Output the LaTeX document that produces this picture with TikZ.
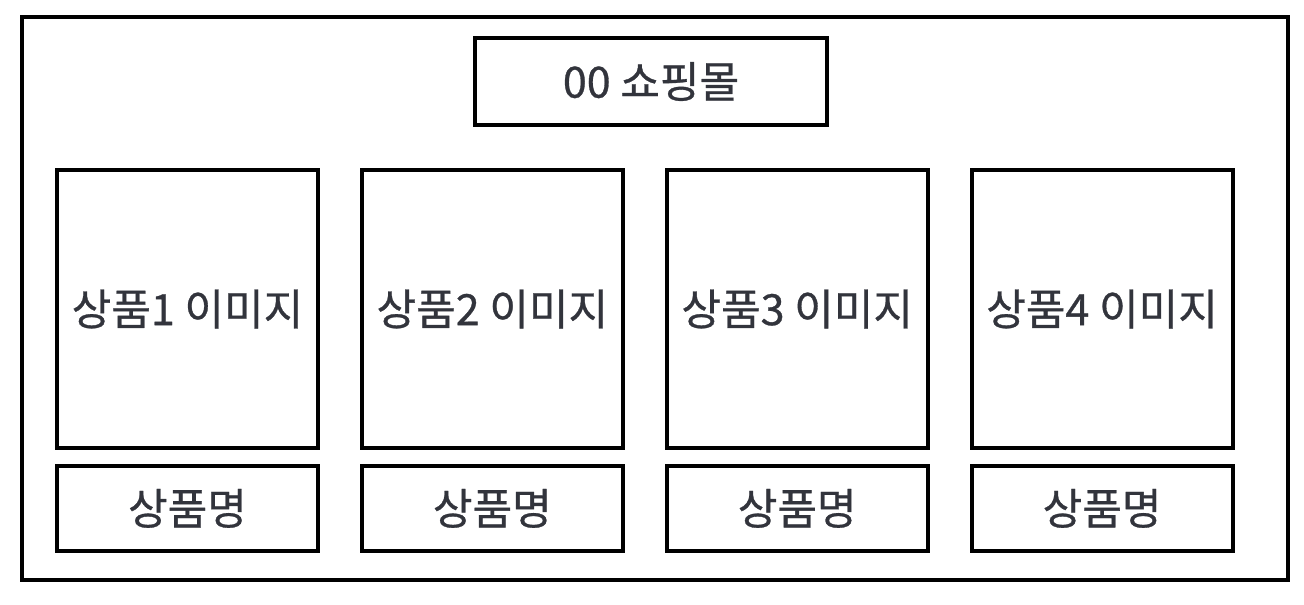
\documentclass[tikz,border=0pt]{standalone}
\usepackage{fontspec}
\setmainfont{Noto Sans CJK KR}
\newfontfamily\medfont[FakeBold=0.7]{Noto Sans CJK KR}
\usepackage{xcolor}
\usepackage{tikz}
\usetikzlibrary{positioning}
\definecolor{textgray}{RGB}{50,52,60}
\tikzstyle{frame} = [line width=2.2pt, draw=black]
\tikzstyle{titlebox} = [rectangle, frame, minimum width=7.04cm, minimum height=1.74cm, text centered, text=textgray, font=\medfont\fontsize{24.5}{28}\selectfont]
\tikzstyle{imgbox} = [rectangle, frame, minimum width=5.22cm, minimum height=5.56cm, text centered, text=textgray, font=\medfont\fontsize{24.5}{28}\selectfont]
\tikzstyle{namebox} = [rectangle, frame, minimum width=5.22cm, minimum height=1.7cm, text centered, text=textgray, font=\medfont\fontsize{24.5}{28}\selectfont]
\begin{document}
\begin{tikzpicture}[node distance=0.8cm]
        \useasboundingbox (0,0) rectangle (26.08,-12.08);
        \draw [frame] (0.44,-0.34) rectangle (25.76,-11.6);

        \node (shop) [titlebox] at (13.02,-1.63) {00 쇼핑몰};
        \node (img1) [imgbox] at (3.75,-6.18) {상품1 이미지};
        \node (img2) [imgbox, right=of img1] {상품2 이미지};
        \node (img3) [imgbox, right=of img2] {상품3 이미지};
        \node (img4) [imgbox, right=of img3] {상품4 이미지};
        \node (name1) [namebox, below=0.28cm of img1] {상품명};
        \node (name2) [namebox, below=0.28cm of img2] {상품명};
        \node (name3) [namebox, below=0.28cm of img3] {상품명};
        \node (name4) [namebox, below=0.28cm of img4] {상품명};
    \end{tikzpicture}
\end{document}
